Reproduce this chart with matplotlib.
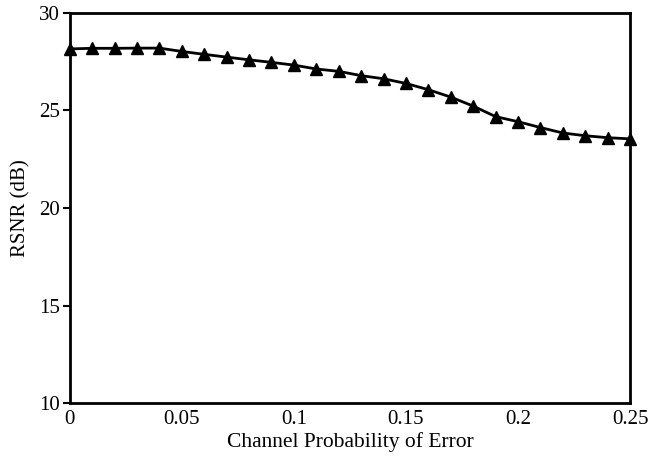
import matplotlib.pyplot as plt

# Channel probability of error (x) and reconstructed SNR in dB (y)
p_error = [0.00, 0.01, 0.02, 0.03, 0.04, 0.05, 0.06, 0.07, 0.08, 0.09,
           0.10, 0.11, 0.12, 0.13, 0.14, 0.15, 0.16, 0.17, 0.18, 0.19,
           0.20, 0.21, 0.22, 0.23, 0.24, 0.25]
rsnr_db = [28.15, 28.18, 28.18, 28.19, 28.19, 28.02, 27.87, 27.73, 27.59, 27.46,
           27.32, 27.12, 27.00, 26.78, 26.62, 26.38, 26.06, 25.68, 25.22, 24.68,
           24.42, 24.12, 23.84, 23.70, 23.60, 23.54]
x_ticks = [0, 0.05, 0.1, 0.15, 0.2, 0.25]
x_tick_labels = ['0', '0.05', '0.1', '0.15', '0.2', '0.25']
y_ticks = [10, 15, 20, 25, 30]

plt.rcParams['font.family'] = ['Liberation Serif', 'DejaVu Serif']

fig = plt.figure(figsize=(6.71, 4.57), dpi=100)
ax = fig.add_axes([0.104, 0.118, 0.835, 0.854])

ax.plot(p_error, rsnr_db, color='black', linewidth=2, marker='^',
        markersize=9, clip_on=False, zorder=3)

ax.set_xlim(0, 0.25)
ax.set_ylim(10, 30)
ax.set_xticks(x_ticks)
ax.set_xticklabels(x_tick_labels)
ax.set_yticks(y_ticks)

ax.tick_params(axis='x', length=0, pad=5, labelsize=15)
ax.tick_params(axis='y', length=5, width=1.5, direction='out', pad=2, labelsize=15)
for spine in ax.spines.values():
    spine.set_linewidth(2)

ax.set_xlabel('Channel Probability of Error', fontsize=15.5, labelpad=2)
ax.set_ylabel('RSNR (dB)', fontsize=15, labelpad=6)

fig.savefig('out.png', dpi=100)
